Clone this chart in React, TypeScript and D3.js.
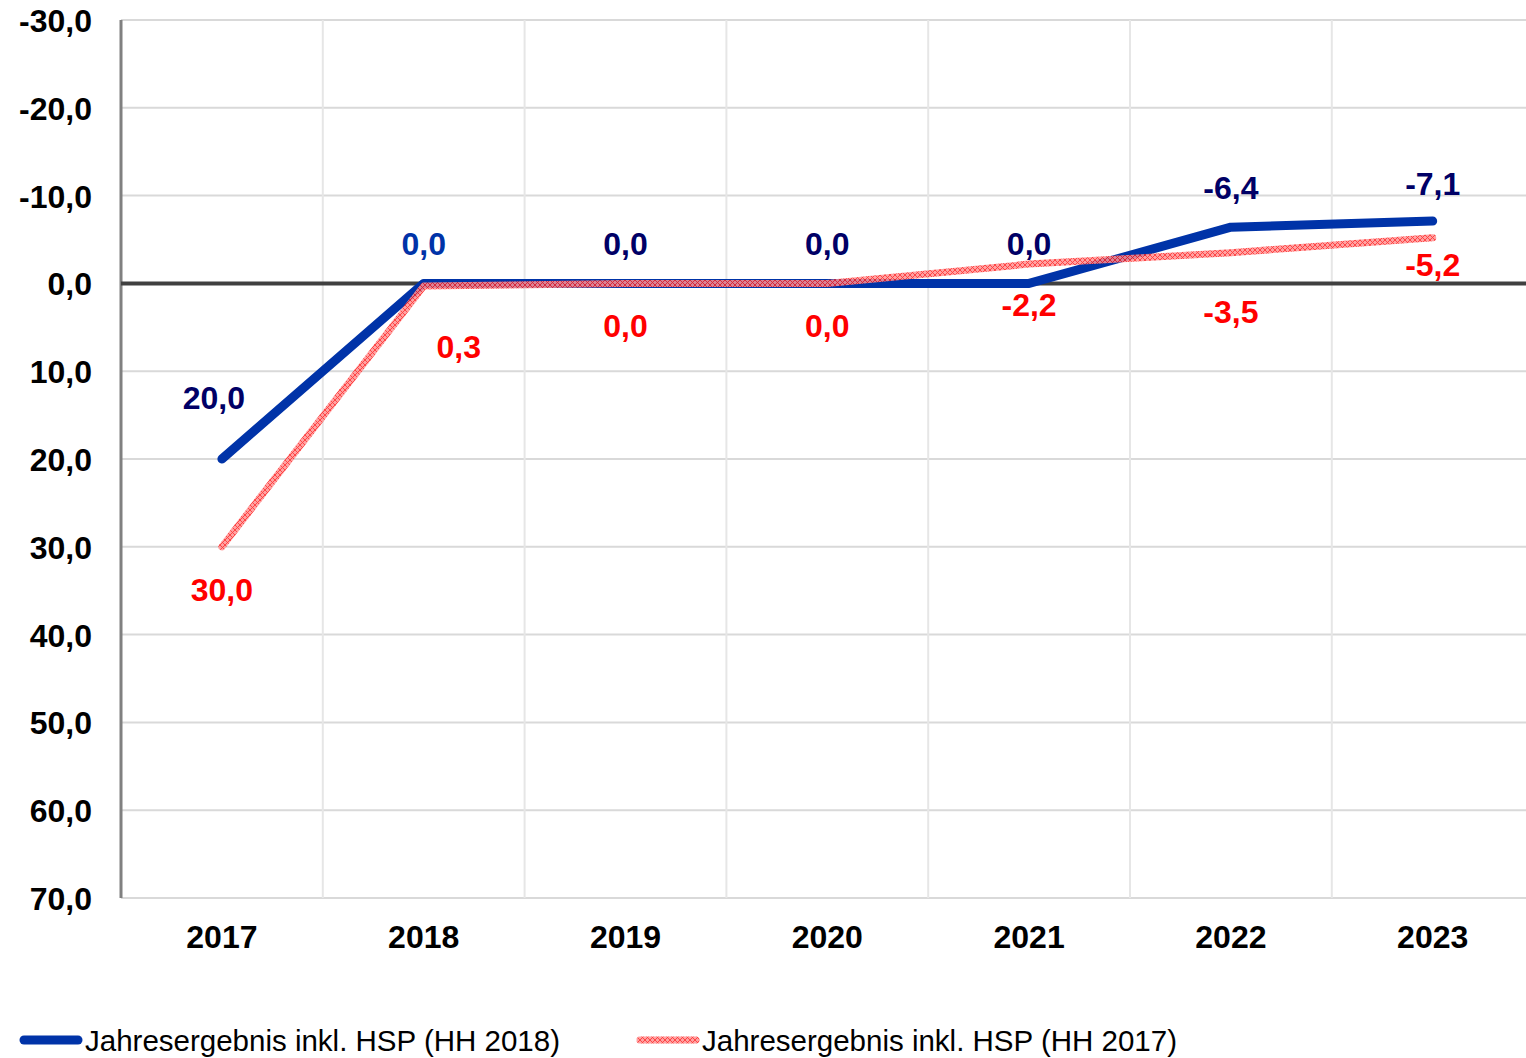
import React from 'react';
import * as d3 from 'd3';

const years = ['2017', '2018', '2019', '2020', '2021', '2022', '2023'];
const hh2018 = [20.0, 0.0, 0.0, 0.0, 0.0, -6.4, -7.1];
const hh2017 = [30.0, 0.3, 0.0, 0.0, -2.2, -3.5, -5.2];
const yTicks = [-30, -20, -10, 0, 10, 20, 30, 40, 50, 60, 70];
const legendLabels = ['Jahresergebnis inkl. HSP (HH 2018)', 'Jahresergebnis inkl. HSP (HH 2017)'];

const W = 1526;
const H = 1058;
const left = 121;
const top = 20;
const bottom = 898;
const step = 201.8;

const fmt = (v: number) => v.toFixed(1).replace('.', ',');

// label nudges, kept apart from the values
const blueNudge = [[-8, -50], [0, -28], [0, -28], [0, -28], [0, -28], [0, -28], [0, -26]];
const redNudge = [[0, 54], [35, 72], [0, 54], [0, 54], [0, 52], [0, 70], [0, 38]];

export default function App() {
  const x = d3.scalePoint<string>().domain(years).range([left, left + step * years.length]).padding(0.5);
  const y = d3.scaleLinear().domain([-30, 70]).range([top, bottom]);
  const line = d3.line<number>().x((_, i) => x(years[i])!).y(d => y(d));
  const bounds = d3.range(1, years.length).map(i => left + step * i);
  const font = 'Arial, "Liberation Sans", sans-serif';

  return (
    <svg width={W} height={H} style={{ position: 'absolute', left: 0, top: 0, background: '#fff' }}>
      <defs>
        <pattern id="hatch" patternUnits="userSpaceOnUse" width={5} height={5}>
          <rect width={5} height={5} fill="#ff9090" />
          <path d="M0,0 L5,5 M5,0 L0,5" stroke="#ff1a1a" strokeWidth={0.9} />
        </pattern>
        <clipPath id="plot">
          <rect x={0} y={0} width={W} height={bottom + 10} />
        </clipPath>
      </defs>

      {yTicks.map(t => (
        <line key={'g' + t} x1={left} x2={W} y1={y(t)} y2={y(t)} stroke="#d9d9d9" strokeWidth={2} />
      ))}
      {bounds.map(b => (
        <line key={'v' + b} x1={b} x2={b} y1={top} y2={bottom} stroke="#e6e6e6" strokeWidth={2} />
      ))}
      <line x1={left} x2={left} y1={top} y2={bottom} stroke="#808080" strokeWidth={3} />
      <line x1={left} x2={W} y1={y(0)} y2={y(0)} stroke="#404040" strokeWidth={4} />

      {yTicks.map(t => (
        <text key={'t' + t} x={92} y={y(t) + 12} textAnchor="end" fontFamily={font} fontWeight="bold" fontSize={32} fill="#000">
          {fmt(t)}
        </text>
      ))}
      {years.map(yr => (
        <text key={yr} x={x(yr)} y={948} textAnchor="middle" fontFamily={font} fontWeight="bold" fontSize={32} fill="#000">
          {yr}
        </text>
      ))}

      <g clipPath="url(#plot)">
        <path d={line(hh2018)!} fill="none" stroke="#0033a8" strokeWidth={9} strokeLinecap="round" strokeLinejoin="round" />
        <path d={line(hh2017)!} fill="none" stroke="url(#hatch)" strokeWidth={7} strokeLinecap="round" strokeLinejoin="round" opacity={0.85} />
      </g>

      {hh2018.map((v, i) => (
        <text key={'b' + i} x={x(years[i])! + blueNudge[i][0]} y={y(v) + blueNudge[i][1]} textAnchor="middle"
          fontFamily={font} fontWeight="bold" fontSize={32} fill={i === 1 ? '#0033a8' : '#000066'}>
          {fmt(v)}
        </text>
      ))}
      {hh2017.map((v, i) => (
        <text key={'r' + i} x={x(years[i])! + redNudge[i][0]} y={y(v) + redNudge[i][1]} textAnchor="middle"
          fontFamily={font} fontWeight="bold" fontSize={32} fill="#ff0000">
          {fmt(v)}
        </text>
      ))}

      <line x1={24} x2={78} y1={1040} y2={1040} stroke="#0033a8" strokeWidth={9} strokeLinecap="round" />
      <text x={85} y={1051} fontFamily={font} fontSize={29.5} fill="#000">{legendLabels[0]}</text>
      <line x1={640} x2={696} y1={1040} y2={1040} stroke="url(#hatch)" strokeWidth={7} strokeLinecap="round" opacity={0.85} />
      <text x={702} y={1051} fontFamily={font} fontSize={29.5} fill="#000">{legendLabels[1]}</text>
    </svg>
  );
}
